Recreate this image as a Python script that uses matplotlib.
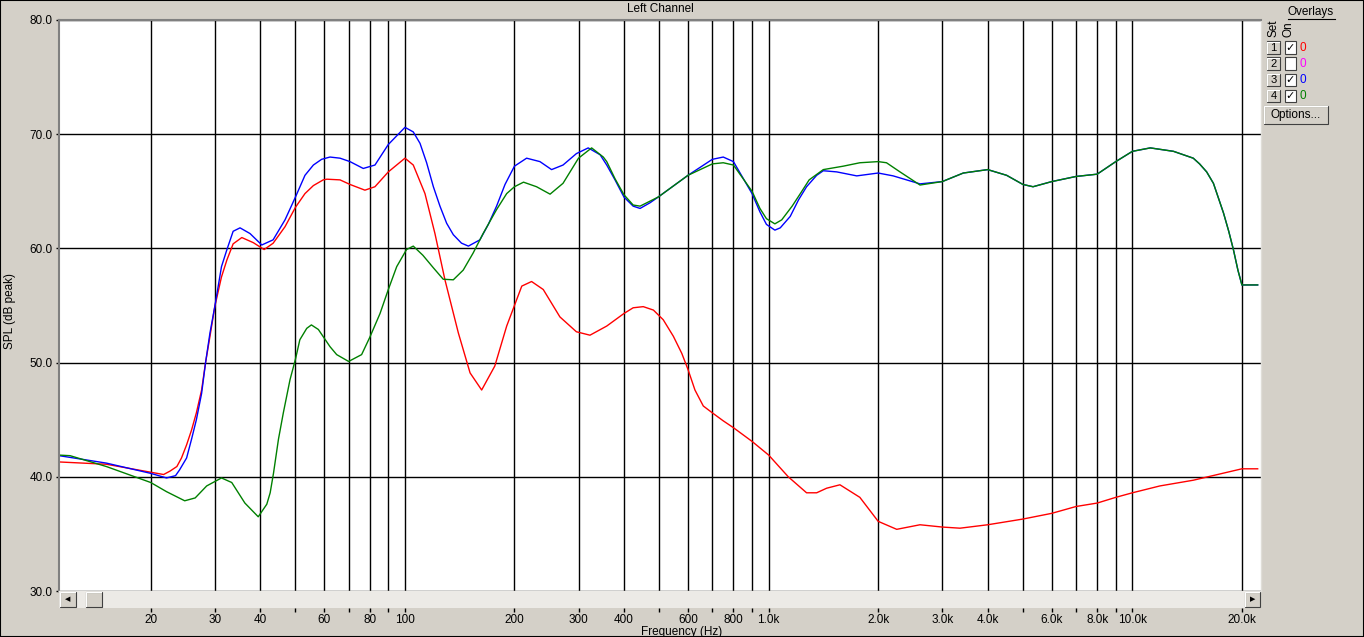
import matplotlib
matplotlib.use('Agg')
import matplotlib.pyplot as plt
from matplotlib.patches import Rectangle
from matplotlib.ticker import NullLocator

plt.rcParams['font.family'] = ['Liberation Sans', 'DejaVu Sans']

# frequency response readings (Hz, dB)
red_f = [11.2, 15.1, 20, 21.7, 22.6, 23.6, 24.3, 25.1, 25.9, 26.7, 27.6, 28.3, 29.1, 30, 31.3, 32.4, 33.7, 35.6, 38.3, 41,
         43.4, 46.8, 50, 53.1, 56, 59.6, 61, 66.3, 70.6, 77.6, 82.7, 90, 100, 105.4, 113.5, 120.9, 128.8, 140.2, 151, 162.5,
         176.6, 190.4, 209.5, 222.9, 240, 266.7, 296, 322.6, 358.7, 400, 424, 452, 482, 513, 547, 577, 600, 627, 661, 700,
         750, 800, 900, 1000, 1132, 1271, 1355, 1443, 1570, 1781, 2000, 2249, 2606, 3000, 3357, 4000, 5000, 6000, 7000, 8000,
         9000, 10000, 11900, 14700, 20000, 22100]
red_db = [41.3, 41.1, 40.4, 40.2, 40.5, 40.9, 41.65, 42.8, 44.1, 45.6, 47.6, 50.0, 52.3, 54.9, 57.5, 59.0, 60.4, 60.95, 60.5, 59.9,
          60.45, 61.9, 63.6, 64.8, 65.5, 66.0, 66.06, 66.0, 65.6, 65.1, 65.4, 66.7, 67.9, 67.3, 64.8, 61.3, 57.25, 52.6, 49.1, 47.6,
          49.7, 53.2, 56.7, 57.1, 56.4, 54.0, 52.7, 52.4, 53.2, 54.3, 54.8, 54.9, 54.6, 53.75, 52.3, 50.8, 49.4, 47.6, 46.2, 45.6,
          44.9, 44.3, 43.1, 41.9, 40.0, 38.6, 38.6, 39.0, 39.3, 38.2, 36.1, 35.4, 35.8, 35.6, 35.5, 35.8, 36.3, 36.8, 37.4, 37.7,
          38.2, 38.6, 39.2, 39.7, 40.7, 40.7]

blue_f = [11.2, 15.1, 20, 22.1, 23.4, 24.0, 25.1, 25.9, 26.7, 27.6, 28.3, 29.1, 30, 31.3, 32.4, 33.7, 35.2, 37.5, 40.4, 43.4,
          46.8, 50, 53.1, 56, 59, 62.2, 66.3, 70.6, 76.8, 82.7, 90, 100, 105.4, 110, 114.7, 119.7, 124.8, 130.2, 135.8, 143,
          149.4, 160.7, 169.5, 178.6, 188.4, 200, 216, 235, 253, 272, 296, 319, 344, 358.7, 378, 400, 424, 443, 472, 497,
          600, 700, 750, 800, 900, 946, 986, 1040, 1076, 1146, 1208, 1271, 1355, 1413, 1538, 1746, 2000, 2199, 2606, 3000,
          3428, 4000, 4510, 5000, 5330, 6000, 7000, 8000, 9000, 10000, 11200, 12970, 14700, 15300, 16000, 16700, 17200, 17800, 18400, 18950,
          19500, 20000, 22100]
blue_db = [41.85, 41.2, 40.3, 39.9, 40.1, 40.6, 41.65, 43.3, 45.0, 47.3, 50.0, 52.6, 54.9, 58.4, 59.9, 61.5, 61.8, 61.3, 60.3, 60.75,
           62.5, 64.5, 66.4, 67.3, 67.8, 68.0, 67.9, 67.6, 67.0, 67.3, 69.1, 70.6, 70.2, 69.2, 67.5, 65.4, 63.7, 62.2, 61.2, 60.46,
           60.2, 60.75, 62.1, 63.7, 65.6, 67.2, 67.9, 67.6, 66.9, 67.3, 68.3, 68.8, 68.2, 67.3, 66.0, 64.5, 63.7, 63.5, 64.0, 64.5,
           66.4, 67.8, 68.0, 67.6, 64.8, 63.2, 62.1, 61.6, 61.8, 62.8, 64.25, 65.4, 66.4, 66.8, 66.7, 66.35, 66.6, 66.35, 65.65, 65.85,
           66.6, 66.9, 66.4, 65.6, 65.4, 65.85, 66.3, 66.5, 67.6, 68.5, 68.8, 68.5, 67.9, 67.4, 66.7, 65.7, 64.5, 63.1, 61.5, 59.9,
           58.1, 56.8, 56.8]

green_f = [11.2, 12, 15.1, 20, 22.1, 24.8, 26.5, 28.5, 31.3, 33.4, 36.3, 39.5, 41.7, 42.6, 43.5, 44.9, 46.3, 48.3, 50, 51.4,
           53.7, 55.3, 57.8, 62.2, 64.9, 70, 76, 80, 85.4, 90, 94.9, 101, 105.4, 112, 119.7, 127.4, 135.8, 144.6, 154, 164,
           178.6, 190.4, 200, 211.8, 230, 250.6, 272, 300, 326, 351, 358.7, 378, 400, 424, 443, 497, 600, 700, 750, 800,
           900, 946, 986, 1040, 1086, 1160, 1222, 1292, 1413, 1603, 1781, 2000, 2108, 2296, 2606, 3000, 3428, 4000, 4510, 5000,
           5330, 6000, 7000, 8000, 9000, 10000, 11200, 12970, 14700, 15300, 16000, 16700, 17200, 17800, 18400, 18950, 19500, 20000, 22100]
green_db = [41.9, 41.85, 40.9, 39.5, 38.7, 37.9, 38.15, 39.2, 39.9, 39.5, 37.7, 36.5, 37.6, 38.6, 40.3, 43.3, 45.6, 48.5, 50.3, 52.0,
            53.0, 53.3, 52.9, 51.4, 50.7, 50.1, 50.7, 52.2, 54.3, 56.4, 58.4, 59.9, 60.2, 59.4, 58.3, 57.3, 57.25, 58.1, 59.6, 61.3,
            63.4, 64.8, 65.4, 65.8, 65.4, 64.75, 65.7, 67.9, 68.8, 68.0, 67.6, 66.1, 64.7, 63.8, 63.7, 64.5, 66.4, 67.4, 67.5, 67.3,
            65.0, 63.5, 62.6, 62.15, 62.5, 63.7, 64.8, 66.0, 66.9, 67.2, 67.5, 67.6, 67.5, 66.7, 65.55, 65.85, 66.6, 66.9, 66.4, 65.6,
            65.4, 65.85, 66.3, 66.5, 67.6, 68.5, 68.8, 68.5, 67.9, 67.4, 66.7, 65.7, 64.5, 63.1, 61.5, 59.9, 58.1, 56.8, 56.8]

grid_f = [20, 30, 40, 50, 60, 70, 80, 90, 100, 200, 300, 400, 500, 600, 700, 800, 900,
          1000, 2000, 3000, 4000, 5000, 6000, 7000, 8000, 9000, 10000, 20000]
grid_labels = ['20', '30', '40', '', '60', '', '80', '', '100', '200', '300', '400', '', '600', '', '800', '',
               '1.0k', '2.0k', '3.0k', '4.0k', '', '6.0k', '', '8.0k', '', '10.0k', '20.0k']
y_ticks = [30, 40, 50, 60, 70, 80]

overlay_sets = ['1', '2', '3', '4']
overlay_on = [True, False, True, True]
overlay_colors = ['#ff0000', '#ff00ff', '#0000ff', '#008000']

W, H = 1364, 637
BG = '#d4d0c8'


def fb(x0, y0, x1, y1):
    # pixel box (top-left origin) -> figure rect
    return [x0 / W, 1 - y1 / H, (x1 - x0) / W, (y1 - y0) / H]


def button(x0, y0, x1, y1):
    fig.add_artist(Rectangle((x0 / W, 1 - y1 / H), (x1 - x0) / W, (y1 - y0) / H,
                             transform=fig.transFigure, facecolor=BG, edgecolor='#404040', lw=0.8))
    fig.add_artist(plt.Line2D([x0 / W, x0 / W, (x1 - 1) / W], [1 - (y1 - 1) / H, 1 - y0 / H, 1 - y0 / H],
                              transform=fig.transFigure, color='white', lw=0.8))


fig = plt.figure(figsize=(W / 100, H / 100), dpi=100, facecolor=BG)

ax = fig.add_axes(fb(59, 20, 1261, 591))
ax.set_xscale('log')
ax.set_xlim(11.19, 22570)
ax.set_ylim(30, 80)
ax.set_facecolor('white')
ax.set_xticks(grid_f)
ax.xaxis.set_minor_locator(NullLocator())
ax.set_yticks(y_ticks)
ax.set_yticklabels(['%.1f' % v for v in y_ticks])
ax.tick_params(axis='x', length=0, labelbottom=False)
ax.tick_params(axis='y', length=2.5, width=1, pad=2, labelsize=8.5, colors='black')
ax.grid(True, color='black', lw=1)
ax.set_axisbelow(True)
for side in ['left', 'top']:
    ax.spines[side].set_color('#808080')
    ax.spines[side].set_linewidth(1.5)
for side in ['right', 'bottom']:
    ax.spines[side].set_color('#e0ded8')
    ax.spines[side].set_linewidth(1)

ax.plot(red_f, red_db, color='#ff0000', lw=1.0)
ax.plot(blue_f, blue_db, color='#0000ff', lw=1.0)
ax.plot(green_f, green_db, color='#008000', lw=1.0)

# horizontal scrollbar with the frequency ticks under it
sb = fig.add_axes(fb(59, 591, 1261, 608))
sb.set_xscale('log')
sb.set_xlim(11.19, 22570)
sb.set_ylim(0, 1)
sb.set_facecolor('#eceae6')
sb.set_yticks([])
sb.set_xticks(grid_f)
sb.set_xticklabels(grid_labels)
sb.xaxis.set_minor_locator(NullLocator())
sb.tick_params(axis='x', direction='out', length=3, width=1, pad=1, labelsize=8.5)
for side in ['left', 'top', 'right', 'bottom']:
    sb.spines[side].set_visible(False)
button(60, 592, 76, 607)
button(86, 592, 102, 607)
button(1245, 592, 1260, 607)
fig.text(68 / W, 1 - 599.5 / H, '\u25c0', fontsize=5, ha='center', va='center', family='DejaVu Sans')
fig.text(1252.5 / W, 1 - 599.5 / H, '\u25b6', fontsize=5, ha='center', va='center', family='DejaVu Sans')

fig.text(660 / W, 1 - 9 / H, 'Left Channel', fontsize=8.5, ha='center', va='center')
fig.text(682 / W, 1 - 631.5 / H, 'Frequency (Hz)', fontsize=8.5, ha='center', va='center')
fig.text(10 / W, 1 - 311 / H, 'SPL (dB peak)', fontsize=8.5, ha='center', va='center', rotation=90)

# overlays panel
fig.text(1311 / W, 1 - 12.5 / H, 'Overlays', fontsize=8.5, ha='center', va='center')
fig.add_artist(plt.Line2D([1288 / W, 1335 / W], [1 - 18.5 / H, 1 - 18.5 / H], transform=fig.transFigure, color='black', lw=0.8))
fig.text(1273.5 / W, 1 - 37 / H, 'Set', fontsize=8.5, ha='center', va='bottom', rotation=90)
fig.text(1288.5 / W, 1 - 37 / H, 'On', fontsize=8.5, ha='center', va='bottom', rotation=90)
for i, (s, on, c) in enumerate(zip(overlay_sets, overlay_on, overlay_colors)):
    y0 = 41.5 + i * 16
    button(1267, y0, 1280, y0 + 12)
    fig.text(1273.5 / W, 1 - (y0 + 6.5) / H, s, fontsize=8, ha='center', va='center')
    fig.add_artist(Rectangle((1284.5 / W, 1 - (y0 + 12) / H), 11 / W, 12 / H, transform=fig.transFigure,
                             facecolor='white', edgecolor='#404040', lw=0.8))
    if on:
        fig.text(1290 / W, 1 - (y0 + 6.5) / H, '\u2713', fontsize=8, fontweight='bold', ha='center', va='center',
                 family='DejaVu Sans')
    fig.text(1302.5 / W, 1 - (y0 + 6.5) / H, '0', fontsize=8.5, ha='center', va='center', color=c)
button(1264, 106, 1328, 124)
fig.text(1296 / W, 1 - 115 / H, 'Options...', fontsize=8.5, ha='center', va='center')

# window frame
fig.add_artist(Rectangle((0, 0), 1, 1, transform=fig.transFigure, fill=False, edgecolor='black', lw=1.5))

fig.savefig('out.png', dpi=100, facecolor=BG)
